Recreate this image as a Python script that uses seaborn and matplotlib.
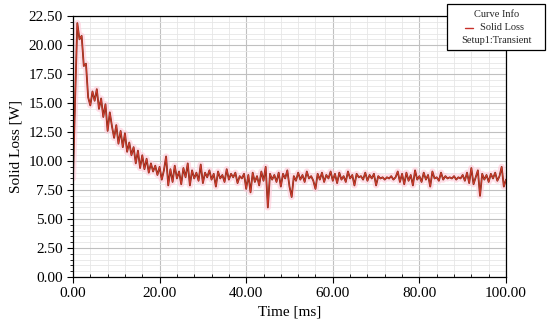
import numpy as np
import pandas as pd
import matplotlib
matplotlib.use("Agg")
import matplotlib.pyplot as plt
import seaborn as sns
from matplotlib.ticker import MultipleLocator
from matplotlib.lines import Line2D
from matplotlib.patches import Rectangle

loss_0_10 = [8.5, 15.5, 21.9, 20.5, 20.8, 18.2, 18.4, 15.5, 14.8, 16.0,
             15.2, 16.2, 14.5, 15.4, 13.8, 14.9, 12.6, 14.2, 13.0, 12.0]
loss_10_20 = [13.1, 11.5, 12.6, 11.2, 12.4, 10.8, 11.6, 10.5, 11.2, 9.8,
              10.9, 9.4, 10.5, 9.3, 10.2, 9.0, 9.8, 9.1, 9.6, 8.8]
loss_20_30 = [9.5, 8.4, 9.2, 10.4, 7.9, 9.3, 8.2, 9.6, 8.5, 9.1,
              8.0, 9.4, 8.6, 9.8, 7.9, 9.2, 8.5, 9.0, 8.3, 9.7]
loss_30_40 = [8.1, 9.0, 8.6, 9.2, 8.4, 8.9, 7.8, 9.1, 8.5, 8.8,
              8.2, 9.3, 8.4, 8.9, 8.6, 9.0, 8.1, 8.7, 8.5, 8.9]
loss_40_50 = [7.6, 8.8, 7.3, 9.0, 8.2, 8.7, 7.9, 9.1, 8.3, 9.5,
              6.0, 8.9, 8.4, 8.8, 8.2, 9.0, 7.8, 8.9, 8.5, 9.2]
loss_50_60 = [7.8, 6.9, 8.7, 8.3, 9.0, 8.4, 8.8, 8.2, 9.1, 8.5,
              8.7, 8.3, 7.6, 8.9, 8.4, 9.0, 8.2, 8.8, 8.5, 9.1]
loss_60_70 = [8.3, 8.9, 8.1, 9.0, 8.4, 8.7, 8.2, 9.1, 8.5, 8.8,
              7.9, 8.9, 8.6, 8.7, 8.4, 9.0, 8.3, 8.8, 8.5, 8.9]
loss_70_80 = [7.9, 8.7, 8.5, 8.6, 8.4, 8.6, 8.5, 8.7, 8.4, 8.6,
              9.1, 8.2, 8.9, 8.0, 9.0, 8.3, 8.8, 7.9, 9.2, 8.4]
loss_80_90 = [8.7, 8.2, 9.0, 8.4, 8.8, 7.8, 9.1, 8.5, 8.6, 8.3,
              9.0, 8.4, 8.7, 8.5, 8.6, 8.5, 8.7, 8.4, 8.6, 8.5]
loss_90_100 = [8.8, 8.3, 9.0, 8.1, 9.4, 8.0, 8.6, 9.2, 7.0, 8.9,
               8.4, 8.8, 8.2, 8.9, 8.5, 9.0, 8.3, 8.7, 9.5, 7.8, 8.4]

loss = (loss_0_10 + loss_10_20 + loss_20_30 + loss_30_40 + loss_40_50 +
        loss_50_60 + loss_60_70 + loss_70_80 + loss_80_90 + loss_90_100)
time_ms = np.arange(len(loss)) * 0.5

df = pd.DataFrame({"Time [ms]": time_ms, "Solid Loss [W]": loss})

sns.set_theme(style="white")
plt.rcParams["font.family"] = ["Liberation Serif", "DejaVu Serif"]

fig = plt.figure(figsize=(5.5, 3.29), dpi=100)
ax = fig.add_axes([0.1327, 0.158, 0.7873, 0.793])

# pink halo, dark edge, then the red trace on top
sns.lineplot(data=df, x="Time [ms]", y="Solid Loss [W]", ax=ax,
             color="#ffc8d8", linewidth=4.5, alpha=0.6)
sns.lineplot(data=df, x="Time [ms]", y="Solid Loss [W]", ax=ax,
             color="#7a2c14", linewidth=1.3)
sns.lineplot(data=df, x="Time [ms]", y="Solid Loss [W]", ax=ax,
             color="#d83a30", linewidth=0.6)

ax.set_xlim(0, 100)
ax.set_ylim(0, 22.5)
ax.xaxis.set_major_locator(MultipleLocator(20))
ax.xaxis.set_minor_locator(MultipleLocator(4))
ax.yaxis.set_major_locator(MultipleLocator(2.5))
ax.yaxis.set_minor_locator(MultipleLocator(0.5))
ax.xaxis.set_major_formatter(lambda v, p: f"{v:.2f}")
ax.yaxis.set_major_formatter(lambda v, p: f"{v:.2f}")

ax.grid(which="major", color="#c0c0c0", linewidth=0.8)
ax.grid(which="minor", color="#e6e6e6", linewidth=0.6)
ax.set_axisbelow(True)

ax.tick_params(which="major", length=4, width=0.8, color="black",
               labelsize=11, labelcolor="black", bottom=True, left=True)
ax.tick_params(which="minor", length=2.5, width=0.6, color="black",
               bottom=True, left=True)
ax.tick_params(axis="x", which="minor", direction="in")

for s in ax.spines.values():
    s.set_color("black")
    s.set_linewidth(0.9)

ax.set_xlabel("Time [ms]", fontsize=11, color="black")
ax.set_ylabel("Solid Loss [W]", fontsize=11, color="black")

# curve info box in the top right corner
box = Rectangle((0.813, 0.848), 0.178, 0.14, transform=fig.transFigure,
                facecolor="white", edgecolor="black", linewidth=0.9, zorder=5)
fig.add_artist(box)
fig.text(0.902, 0.955, "Curve Info", ha="center", va="center", fontsize=7.5, zorder=6)
fig.text(0.912, 0.915, "Solid Loss", ha="center", va="center", fontsize=7.5, zorder=6)
fig.add_artist(Line2D([0.845, 0.86], [0.915, 0.915], transform=fig.transFigure,
                      color="#c8302a", linewidth=1.0, zorder=6))
fig.text(0.902, 0.878, "Setup1:Transient", ha="center", va="center", fontsize=7.5, zorder=6)

fig.savefig("out.png", dpi=100)
